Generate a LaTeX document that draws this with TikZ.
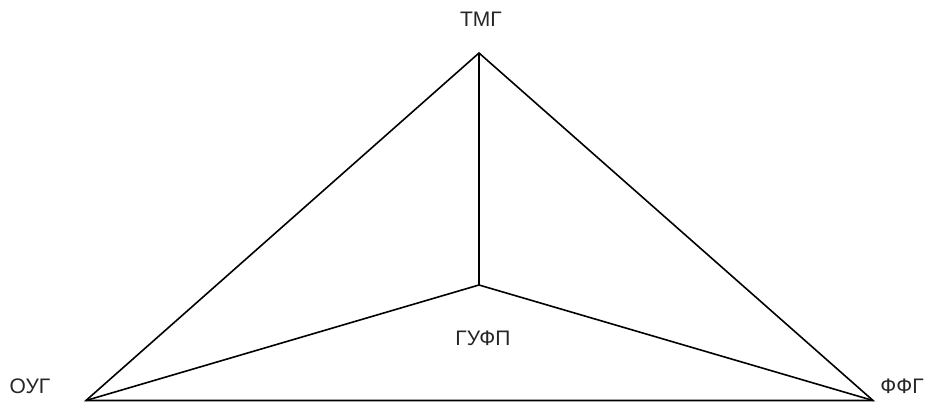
\documentclass[tikz,border=0pt]{standalone}
\usepackage{fontspec}
\setmainfont{Liberation Sans}
\begin{document}
\begin{tikzpicture}[x=1pt,y=-1pt,
  edge/.style={draw=black,line width=1.6pt},
  lbl/.style={font=\fontsize{21}{25}\selectfont,text=black!85,inner sep=0pt,anchor=center}]
\useasboundingbox (0,0) rectangle (931,403);
\coordinate (T) at (479,53);
\coordinate (C) at (479,285);
\coordinate (L) at (86,400.5);
\coordinate (R) at (873,400.5);
\draw[edge] (L) -- (T) -- (R) -- cycle;
\draw[edge] (T) -- (C);
\draw[edge] (L) -- (C) -- (R);
\node[lbl] (tmg) at (481,19.5) {ТМГ};
\node[lbl] (oug) at (30,386) {ОУГ};
\node[lbl] (ffg) at (902,386) {ФФГ};
\node[lbl] (gufp) at (483,338) {ГУФП};
\end{tikzpicture}
\end{document}
